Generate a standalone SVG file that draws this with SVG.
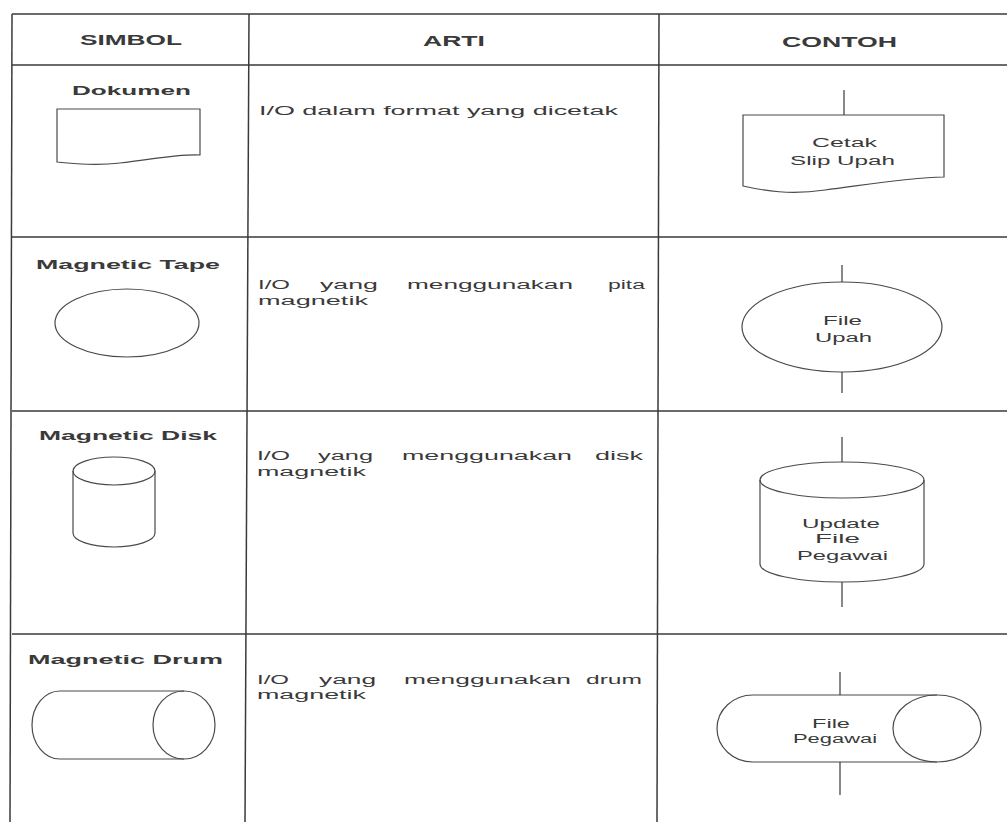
<svg xmlns="http://www.w3.org/2000/svg" width="1007" height="822" viewBox="0 0 1007 822">
<style>
.grid{stroke:#3a3a3a;stroke-width:1.5;fill:none}
.shape{stroke:#4a4a4a;stroke-width:1.2;fill:none}
.conn{stroke:#3a3a3a;stroke-width:1.2;fill:none}
text{font-family:"Liberation Sans",Arial,sans-serif;fill:#3a3a3a}
.hdr{font-size:14px;font-weight:bold}
.lbl{font-size:13.5px;font-weight:bold}
.desc{font-size:12.5px}
.ex{font-size:12.5px}
</style>
<rect width="1007" height="822" fill="#ffffff"/>
<g id="table">
<line class="grid" x1="12" y1="14" x2="1007" y2="14"/>
<line class="grid" x1="12" y1="65" x2="1007" y2="65"/>
<line class="grid" x1="12" y1="237" x2="1007" y2="237"/>
<line class="grid" x1="12" y1="411" x2="1007" y2="411"/>
<line class="grid" x1="12" y1="634" x2="1007" y2="634"/>
<line class="grid" x1="12" y1="14" x2="10" y2="822"/>
<line class="grid" x1="249" y1="14" x2="245" y2="822"/>
<line class="grid" x1="659" y1="14" x2="657" y2="822"/>
</g>
<g id="header">
<text class="hdr" x="80" y="45" textLength="102" lengthAdjust="spacingAndGlyphs">SIMBOL</text>
<text class="hdr" x="423" y="46" textLength="62" lengthAdjust="spacingAndGlyphs">ARTI</text>
<text class="hdr" x="782" y="47" textLength="115" lengthAdjust="spacingAndGlyphs">CONTOH</text>
</g>
<g id="sym-dokumen">
<text class="lbl" x="72" y="95" textLength="119" lengthAdjust="spacingAndGlyphs">Dokumen</text>
<path class="shape" d="M57,109 H200 V155 C175,154 150,160 120,163 C95,166 75,164 57,162 Z"/>
</g>
<g id="arti-dokumen">
<text class="desc" x="259" y="115" textLength="359" lengthAdjust="spacingAndGlyphs">I/O dalam format yang dicetak</text>
</g>
<g id="contoh-dokumen">
<path class="shape" d="M743,115 H944 V177 C905,178 865,185 825,190 C790,195 765,191 743,186 Z"/>
<text class="ex" x="812" y="147" textLength="65" lengthAdjust="spacingAndGlyphs">Cetak</text>
<text class="ex" x="790" y="165" textLength="105" lengthAdjust="spacingAndGlyphs">Slip Upah</text>
</g>
<g id="sym-tape">
<text class="lbl" x="36" y="269" textLength="184" lengthAdjust="spacingAndGlyphs">Magnetic Tape</text>
<ellipse class="shape" cx="127" cy="323" rx="72" ry="34"/>
</g>
<g id="arti-tape">
<text class="desc" y="289"><tspan x="258" textLength="32" lengthAdjust="spacingAndGlyphs">I/O</tspan><tspan x="320" textLength="58" lengthAdjust="spacingAndGlyphs">yang</tspan><tspan x="407" textLength="166" lengthAdjust="spacingAndGlyphs">menggunakan</tspan><tspan x="608" textLength="37" lengthAdjust="spacingAndGlyphs">pita</tspan></text>
<text class="desc" x="258" y="305" textLength="110" lengthAdjust="spacingAndGlyphs">magnetik</text>
</g>
<g id="contoh-tape">
<ellipse class="shape" cx="842" cy="327" rx="100" ry="45"/>
<text class="ex" x="823" y="325" textLength="39" lengthAdjust="spacingAndGlyphs">File</text>
<text class="ex" x="815" y="342" textLength="57" lengthAdjust="spacingAndGlyphs">Upah</text>
</g>
<g id="sym-disk">
<text class="lbl" x="39" y="440" textLength="178" lengthAdjust="spacingAndGlyphs">Magnetic Disk</text>
<ellipse class="shape" cx="114" cy="471" rx="41" ry="14"/>
<path class="shape" d="M73,471 V533 A41,14 0 0 0 155,533 V471"/>
</g>
<g id="arti-disk">
<text class="desc" y="460"><tspan x="257" textLength="33" lengthAdjust="spacingAndGlyphs">I/O</tspan><tspan x="318" textLength="55" lengthAdjust="spacingAndGlyphs">yang</tspan><tspan x="402" textLength="170" lengthAdjust="spacingAndGlyphs">menggunakan</tspan><tspan x="595" textLength="48" lengthAdjust="spacingAndGlyphs">disk</tspan></text>
<text class="desc" x="257" y="476" textLength="109" lengthAdjust="spacingAndGlyphs">magnetik</text>
</g>
<g id="contoh-disk">
<ellipse class="shape" cx="842" cy="480" rx="82" ry="18"/>
<path class="shape" d="M760,480 V564 A82,18 0 0 0 924,564 V480"/>
<text class="ex" x="802" y="528" textLength="78" lengthAdjust="spacingAndGlyphs">Update</text>
<text class="ex" x="815" y="543" textLength="45" lengthAdjust="spacingAndGlyphs">File</text>
<text class="ex" x="797" y="560" textLength="91" lengthAdjust="spacingAndGlyphs">Pegawai</text>
</g>
<g id="sym-drum">
<text class="lbl" x="28" y="664" textLength="195" lengthAdjust="spacingAndGlyphs">Magnetic Drum</text>
<path class="shape" d="M184,691 H60 A28,34 0 0 0 60,759 H184"/>
<ellipse class="shape" cx="184" cy="725" rx="31" ry="34"/>
</g>
<g id="arti-drum">
<text class="desc" y="684"><tspan x="257" textLength="32" lengthAdjust="spacingAndGlyphs">I/O</tspan><tspan x="319" textLength="57" lengthAdjust="spacingAndGlyphs">yang</tspan><tspan x="404" textLength="167" lengthAdjust="spacingAndGlyphs">menggunakan</tspan><tspan x="586" textLength="56" lengthAdjust="spacingAndGlyphs">drum</tspan></text>
<text class="desc" x="257" y="699" textLength="109" lengthAdjust="spacingAndGlyphs">magnetik</text>
</g>
<g id="contoh-drum">
<path class="shape" d="M937,695 H753 A36,33.5 0 0 0 753,762 H937"/>
<ellipse class="shape" cx="937" cy="728.5" rx="44" ry="33.5"/>
<text class="ex" x="812" y="728" textLength="38" lengthAdjust="spacingAndGlyphs">File</text>
<text class="ex" x="793" y="743" textLength="84" lengthAdjust="spacingAndGlyphs">Pegawai</text>
</g>
<g id="connectors">
<line class="conn" x1="844" y1="90" x2="844" y2="115"/>
<line class="conn" x1="842" y1="265" x2="842" y2="282"/>
<line class="conn" x1="842" y1="372" x2="842" y2="393"/>
<line class="conn" x1="842" y1="437" x2="842" y2="462"/>
<line class="conn" x1="842" y1="582" x2="842" y2="607"/>
<line class="conn" x1="840" y1="672" x2="840" y2="695"/>
<line class="conn" x1="840" y1="762" x2="840" y2="795"/>
</g>
</svg>
